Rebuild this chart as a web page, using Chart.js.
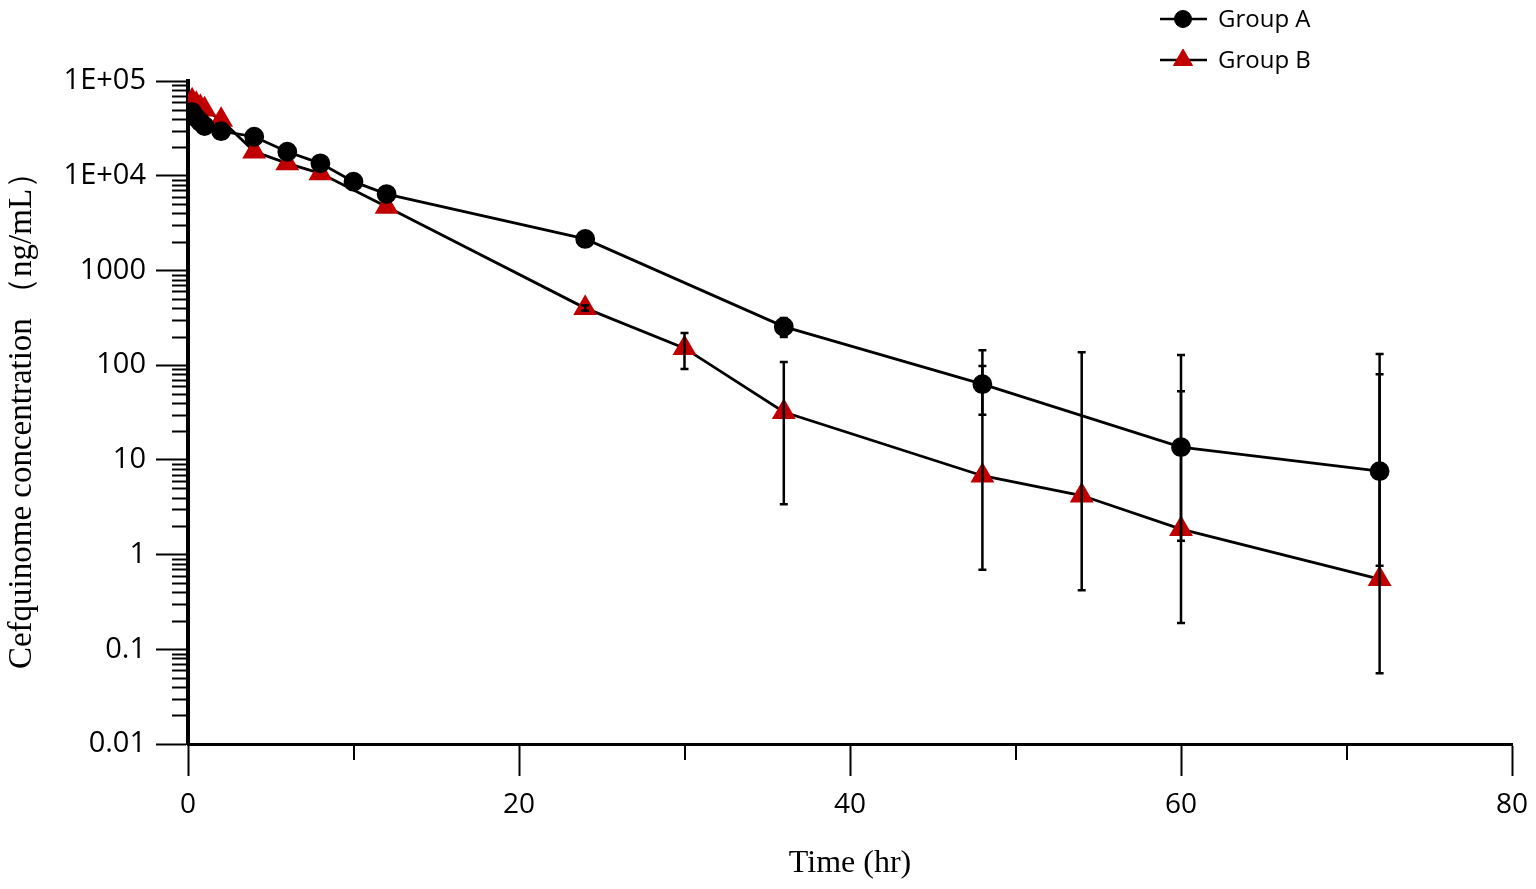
<!DOCTYPE html>
<html>
<head>
<meta charset="utf-8">
<script src="https://cdn.jsdelivr.net/npm/chart.js@4"></script>
<style>
  html, body { margin: 0; padding: 0; background: #fff; }
  #wrap { width: 1536px; height: 889px; position: relative; }
</style>
</head>
<body>
<div id="wrap"><canvas id="pkChart"></canvas></div>
<script>
// sampling times (hr)
const timeA = [0.25, 0.5, 0.75, 1, 2, 4, 6, 8, 10, 12, 24, 36, 48, 60, 72];
const timeB = [0.25, 0.5, 0.75, 1, 2, 4, 6, 8, 12, 24, 30, 36, 48, 54, 60, 72];

// mean concentrations (ng/mL)
const concA = [47000, 41000, 37000, 33500, 29500, 25800, 17900, 13500, 8650, 6400, 2150, 255, 63, 13.6, 7.6];
const concB = [62000, 57000, 53000, 50000, 38800, 18000, 13500, 10600, 4700, 400, 151, 32, 6.8, 4.2, 1.86, 0.55];

// error bar ends (null = hidden behind the marker)
const errHiA = [null, null, null, null, null, null, null, null, null, null, null, 315, 144, 128, 131];
const errLoA = [null, null, null, null, null, null, null, null, null, null, null, 198, 30, 1.4, 0.76];
const errHiB = [null, null, null, null, null, null, null, null, null, 430, 218, 108, 98, 137, 53, 80];
const errLoB = [null, null, null, null, null, null, null, null, null, 375, 91, 3.4, 0.69, 0.42, 0.19, 0.056];

const yTickValues = [0.01, 0.1, 1, 10, 100, 1000, 10000, 100000];
const yTickLabels = ["0.01", "0.1", "1", "10", "100", "1000", "1E+04", "1E+05"];
const xMinorTicks = [10, 30, 50, 70];

const RED = "#c00000";

function toPoints(xs, ys) {
  return xs.map((x, i) => ({ x: x, y: ys[i] }));
}

// error bars, drawn over the markers
const errorBars = {
  id: "errorBars",
  afterDatasetsDraw(chart) {
    const ctx = chart.ctx;
    const xs = chart.scales.x, ys = chart.scales.y;
    const sets = [[timeA, errHiA, errLoA], [timeB, errHiB, errLoB]];
    ctx.save();
    ctx.strokeStyle = "#000";
    ctx.lineWidth = 2.5;
    sets.forEach(function (s) {
      s[0].forEach(function (t, i) {
        if (s[1][i] == null) return;
        const px = xs.getPixelForValue(t);
        const yHi = ys.getPixelForValue(s[1][i]);
        const yLo = ys.getPixelForValue(s[2][i]);
        ctx.beginPath();
        ctx.moveTo(px, yHi); ctx.lineTo(px, yLo);
        ctx.moveTo(px - 4, yHi); ctx.lineTo(px + 4, yHi);
        ctx.moveTo(px - 4, yLo); ctx.lineTo(px + 4, yLo);
        ctx.stroke();
      });
    });
    ctx.restore();
  }
};

// short minor ticks on both axes
const minorTicks = {
  id: "minorTicks",
  afterDraw(chart) {
    const ctx = chart.ctx;
    const xs = chart.scales.x, ys = chart.scales.y;
    const left = chart.chartArea.left, bottom = chart.chartArea.bottom;
    ctx.save();
    ctx.strokeStyle = "#000";
    ctx.lineWidth = 2;
    ctx.beginPath();
    for (let d = -2; d < 5; d++) {
      for (let m = 2; m < 10; m++) {
        const py = Math.round(ys.getPixelForValue(m * Math.pow(10, d))) + 0.5;
        ctx.moveTo(left, py); ctx.lineTo(left - 16, py);
      }
    }
    xMinorTicks.forEach(function (v) {
      const px = Math.round(xs.getPixelForValue(v));
      ctx.moveTo(px, bottom); ctx.lineTo(px, bottom + 16);
    });
    ctx.stroke();
    ctx.restore();
  }
};

// legend in the top right corner, line + marker like the plot
const cornerLegend = {
  id: "cornerLegend",
  afterDraw(chart) {
    const ctx = chart.ctx;
    const rows = [[19, chart.data.datasets[0]], [60, chart.data.datasets[1]]];
    ctx.save();
    rows.forEach(function (r) {
      const y = r[0], ds = r[1];
      ctx.strokeStyle = "#000";
      ctx.lineWidth = 2.5;
      ctx.beginPath();
      ctx.moveTo(1160, y); ctx.lineTo(1207, y);
      ctx.stroke();
      ctx.fillStyle = ds.pointBackgroundColor;
      ctx.strokeStyle = ds.pointBorderColor;
      ctx.lineWidth = 1;
      Chart.helpers.drawPoint(ctx, { pointStyle: ds.pointStyle, radius: ds.pointRadius, borderWidth: 1 }, 1183, y);
      ctx.fillStyle = "#000";
      ctx.font = "24px 'Open Sans'";
      ctx.textBaseline = "middle";
      ctx.textAlign = "left";
      ctx.fillText(ds.label, 1218, y + 1);
    });
    ctx.restore();
  }
};

document.addEventListener("DOMContentLoaded", function () {
  const canvas = document.getElementById("pkChart");

  new Chart(canvas, {
    type: "line",
    data: {
      datasets: [{
        label: "Group A",
        data: toPoints(timeA, concA),
        borderColor: "#000",
        borderWidth: 2.8,
        pointStyle: "circle",
        pointRadius: 8.5,
        pointBackgroundColor: "#000",
        pointBorderColor: "#000",
        tension: 0
      }, {
        label: "Group B",
        data: toPoints(timeB, concB),
        borderColor: "#000",
        borderWidth: 2.8,
        pointStyle: "triangle",
        pointRadius: 11,
        pointBackgroundColor: RED,
        pointBorderColor: RED,
        tension: 0
      }]
    },
    options: {
      responsive: true,
      maintainAspectRatio: false,
      animation: false,
      layout: { padding: { top: 81, right: 24, left: 0, bottom: 0 } },
      plugins: {
        legend: { display: false },
        tooltip: { enabled: false }
      },
      scales: {
        x: {
          type: "linear",
          min: 0,
          max: 80,
          afterFit: function (s) { s.height = 145; s.paddingRight = 0; s.paddingLeft = 0; },
          ticks: {
            stepSize: 20,
            color: "#000",
            padding: 12,
            maxRotation: 0,
            font: { family: "'Open Sans'", size: 28 }
          },
          grid: {
            drawOnChartArea: false,
            tickLength: 32,
            tickWidth: 2,
            tickColor: "#000"
          },
          border: { color: "#000", width: 3 },
          title: {
            display: true,
            text: "Time (hr)",
            color: "#000",
            font: { family: "'Liberation Serif'", size: 32 },
            padding: { top: 6, bottom: 6 }
          }
        },
        y: {
          type: "logarithmic",
          min: 0.01,
          max: 100000,
          afterFit: function (s) { s.width = 188; },
          afterBuildTicks: function (s) {
            s.ticks = yTickValues.map(v => ({ value: v }));
          },
          ticks: {
            color: "#000",
            padding: 10,
            autoSkip: false,
            font: { family: "'Open Sans'", size: 29 },
            callback: function (value) {
              const i = yTickValues.indexOf(value);
              return i >= 0 ? yTickLabels[i] : "";
            }
          },
          grid: {
            drawOnChartArea: false,
            tickLength: 32,
            tickWidth: 2,
            tickColor: "#000"
          },
          border: { color: "#000", width: 4 },
          title: {
            display: true,
            text: "Cefquinome concentration （ng/mL）",
            color: "#000",
            font: { family: "'Liberation Serif'", size: 33 },
            padding: { top: 3, bottom: 3 }
          }
        }
      }
    },
    plugins: [errorBars, minorTicks, cornerLegend]
  });
});
</script>
</body>
</html>
